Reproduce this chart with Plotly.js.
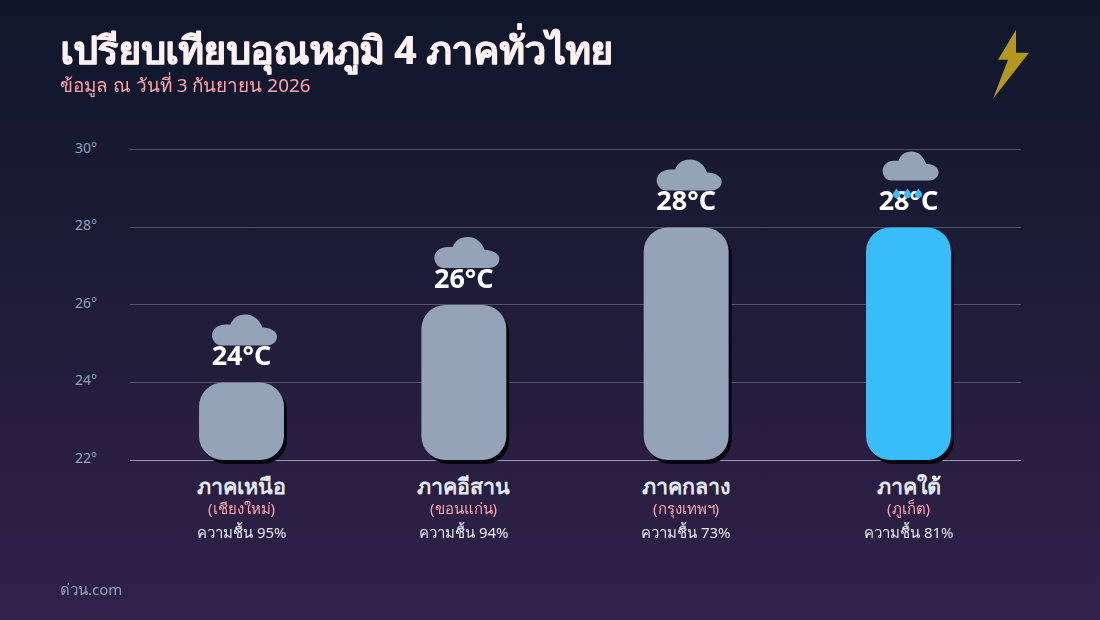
<!DOCTYPE html>
<html><head><meta charset="utf-8">
<script src="https://cdn.plot.ly/plotly-3.0.1.min.js"></script>
<style>
html,body{margin:0;padding:0;width:1100px;height:620px;overflow:hidden;background:linear-gradient(180deg,#0f172a 0%,#312149 100%);}
#c{width:1100px;height:620px;}
.barlayer{filter:drop-shadow(3px 4px 0 #07060e);}
</style></head><body><div id="c"></div>
<script>
const regions=['ภาคเหนือ','ภาคอีสาน','ภาคกลาง','ภาคใต้'];
const provinces=['(เชียงใหม่)','(ขอนแก่น)','(กรุงเทพฯ)','(ภูเก็ต)'];
const temps=[24,26,28,28];
const humidity=[95,94,73,81];
const barColors=['#94a3b8','#94a3b8','#94a3b8','#38bdf8'];
const yTicks=[22,24,26,28,30];
const FONT='"Noto Sans","Noto Sans CJK SC",sans-serif';
const axisBase=22, W=.382;
const bars={type:'bar',x:regions,y:temps.map(t=>t-axisBase),base:temps.map(()=>axisBase),width:W,marker:{color:barColors,line:{width:0}},hoverinfo:'skip',showlegend:false,cliponaxis:false};
const labels={type:'scatter',mode:'markers+text',x:regions,y:temps,text:temps.map(t=>t+'°C'),textposition:'top center',
  textfont:{family:FONT,size:27,color:'#ffffff',weight:700},marker:{size:15,opacity:0},cliponaxis:false,hoverinfo:'skip',showlegend:false};
const traces=[bars,labels];

function cloudPath(sx,sy,dx,dy){
  const p=(x,y)=>(x*sx+dx).toFixed(1)+','+(y*sy+dy).toFixed(1);
  return 'M'+p(-20,0)+' C'+p(-26,0)+' '+p(-29.5,6)+' '+p(-29.5,10)+' C'+p(-29.5,16)+' '+p(-24,21)+' '+p(-16,21)+' L'+p(-11,21)+
   ' C'+p(-9,27)+' '+p(-4,31)+' '+p(4,31)+' C'+p(13,31)+' '+p(18,25)+' '+p(21,18)+' C'+p(29,18)+' '+p(35.5,14)+' '+p(35.5,9)+' C'+p(35.5,3)+' '+p(30,0)+' '+p(25,0)+' Z';
}
function dropPath(dx,dy){
  const p=(x,y)=>(x+dx).toFixed(1)+','+(y+dy).toFixed(1);
  return 'M'+p(0,5)+' L'+p(3.2,0.5)+' C'+p(4.4,-2.5)+' '+p(2,-4.5)+' '+p(0,-4.5)+' C'+p(-2,-4.5)+' '+p(-4.4,-2.5)+' '+p(-3.2,0.5)+' Z';
}
const shapes=[];
temps.forEach((t,i)=>{
  const last=i===3;
  shapes.push({type:'path',layer:'above',xref:'x',yref:'y',xsizemode:'pixel',ysizemode:'pixel',xanchor:i,yanchor:t,
    path:last?cloudPath(.862,.935,-.5,47):cloudPath(1,1,0,37),fillcolor:'#94a3b8',line:{width:0}});
});
[-12,-1,10].forEach(dx=>shapes.push({type:'path',layer:'above',xref:'x',yref:'y',xsizemode:'pixel',ysizemode:'pixel',xanchor:3,yanchor:temps[3],
    path:dropPath(dx,34),fillcolor:'#38bdf8',line:{width:0}}));
const px=x=>(x-130)/891, py=y=>(460.25-y)/311.94;
const bolt=[[1016,30],[1016,53],[1029,53],[993,99],[1008,60],[998,60]];
shapes.push({type:'path',layer:'above',xref:'paper',yref:'paper',
  path:'M'+bolt.map(b=>px(b[0]).toFixed(4)+','+py(b[1]).toFixed(4)).join(' L')+' Z',fillcolor:'#b2981c',line:{width:0}});

const ann=[];
ann.push({xref:'paper',yref:'paper',x:px(58),y:py(85),xanchor:'left',yanchor:'middle',text:'ข้อมูล ณ วันที่ 3 กันยายน 2026',showarrow:false,font:{family:FONT,size:18.9,color:'#fda4af'}});
ann.push({xref:'paper',yref:'paper',x:px(58),y:py(589),xanchor:'left',yanchor:'middle',text:'ด่วน.com',showarrow:false,font:{family:FONT,size:15,color:'#94a3b8'}});
regions.forEach((r,i)=>{
  ann.push({xref:'x',yref:'paper',x:r,y:py(508.5),xanchor:'center',yanchor:'middle',text:provinces[i],showarrow:false,font:{family:FONT,size:15,color:'#fda4af'}});
  ann.push({xref:'x',yref:'paper',x:r,y:py(532.5),xanchor:'center',yanchor:'middle',text:'ความชื้น '+humidity[i]+'%',showarrow:false,font:{family:FONT,size:15,color:'#e2e8f0'}});
});
const layout={
 width:1100,height:620,margin:{l:130,r:79,t:148.31,b:159.75},autosize:false,
 paper_bgcolor:'rgba(0,0,0,0)',plot_bgcolor:'rgba(0,0,0,0)',barmode:'overlay',barcornerradius:24,showlegend:false,
 title:{text:'เปรียบเทียบอุณหภูมิ 4 ภาคทั่วไทย',xref:'container',yref:'container',x:60/1100,xanchor:'left',y:1-50/620,yanchor:'middle',font:{family:FONT,size:38.6,color:'#fff1f2',weight:700,shadow:'0.7px 0 0 #fff1f2'}},
 xaxis:{type:'category',categoryorder:'array',categoryarray:regions,range:[-.5015,3.506],showline:true,linecolor:'rgba(255,255,255,.55)',linewidth:1,zeroline:false,showgrid:false,ticks:'',layer:'below traces',
   tickfont:{family:FONT,size:21.5,color:'#e2e8f0',weight:700},ticklabelstandoff:7},
 yaxis:{range:[22,30.05],tickmode:'array',tickvals:yTicks,ticktext:yTicks.map(v=>v+'°'),tickfont:{family:FONT,size:14,color:'#94a3b8'},
   showgrid:true,gridcolor:'rgba(255,255,255,.25)',gridwidth:1,zeroline:false,showline:false,ticks:'',ticklabelstandoff:32,ticklabelshift:-2,layer:'below traces'},
 shapes:shapes,annotations:ann
};
Plotly.newPlot('c',traces,layout,{staticPlot:true,displayModeBar:false});
</script></body></html>
